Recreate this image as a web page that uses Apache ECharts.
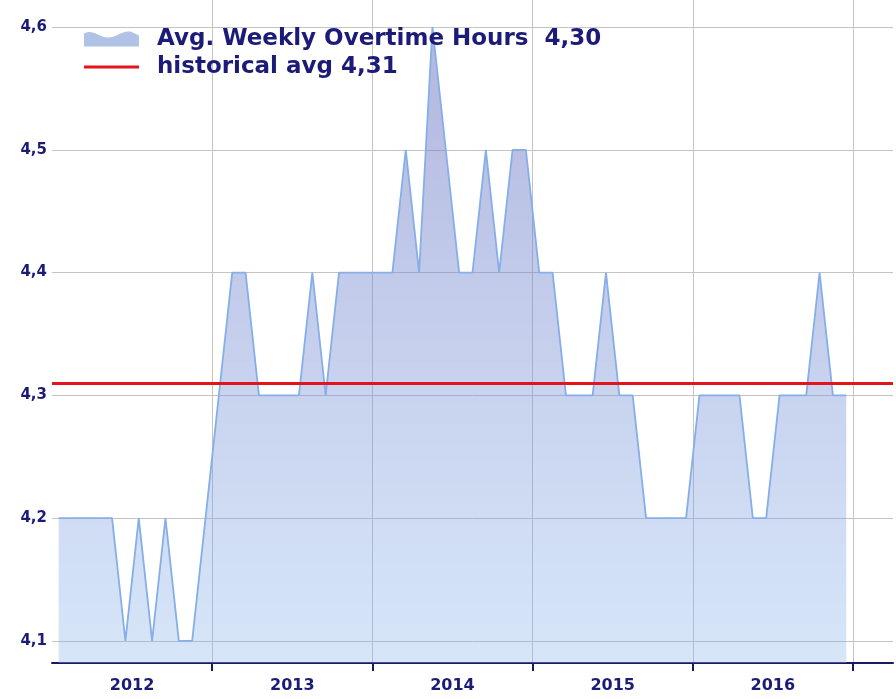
<!DOCTYPE html>
<html>
<head>
    <meta charset="utf-8">
    <title>Avg. Weekly Overtime Hours</title>
    <script src="https://cdn.jsdelivr.net/npm/echarts@6/dist/echarts.min.js"></script>
    <style>
        html, body { margin: 0; padding: 0; background: #fff; }
    </style>
</head>
<body>
<div id="main" style="width: 896px;height:699px;"></div>
<script type="text/javascript">
    // monthly values Jan 2012 .. Dec 2016
    var overtime = [
        4.2, 4.2, 4.2, 4.2, 4.2, 4.1, 4.2, 4.1, 4.2, 4.1, 4.1, 4.2,   // 2012
        4.3, 4.4, 4.4, 4.3, 4.3, 4.3, 4.3, 4.4, 4.3, 4.4, 4.4, 4.4,   // 2013
        4.4, 4.4, 4.5, 4.4, 4.6, 4.5, 4.4, 4.4, 4.5, 4.4, 4.5, 4.5,   // 2014
        4.4, 4.4, 4.3, 4.3, 4.3, 4.4, 4.3, 4.3, 4.2, 4.2, 4.2, 4.2,   // 2015
        4.3, 4.3, 4.3, 4.3, 4.2, 4.2, 4.3, 4.3, 4.3, 4.4, 4.3, 4.3    // 2016
    ];
    var years = ['2012', '2013', '2014', '2015', '2016'];
    var historicalAvg = 4.31;
    var seriesNames = ['Avg. Weekly Overtime Hours  4,30', 'historical avg 4,31'];

    var navy = '#1c1c78';
    var myChart = echarts.init(document.getElementById('main'));

    // x position in months: each value sits in the middle of its month
    var points = overtime.map(function (v, i) { return [i + 0.5, v]; });
    var yearStarts = years.map(function (y, i) { return (i + 1) * 12; });
    var yearMids = years.map(function (y, i) { return i * 12 + 6; });

    myChart.setOption({
        animation: false,
        textStyle: { fontFamily: 'DejaVu Sans' },
        legend: {
            orient: 'vertical',
            left: 79,
            top: 20,
            itemGap: 0,
            itemWidth: 55,
            itemHeight: 18,
            textStyle: {
                color: navy, fontSize: 23, fontWeight: 'bold', fontFamily: 'DejaVu Sans',
                lineHeight: 28, padding: [0, 0, 0, 13]
            },
            data: [
                {
                    name: seriesNames[0],
                    icon: 'path://M0,5 C8,0 14,8 24,9 C32,9 38,2 46,3 C50,4 52,6 55,7 L55,18 L0,18 Z',
                    itemStyle: { color: '#b0c2e6' }
                },
                {
                    name: seriesNames[1],
                    icon: 'path://M0,0 M55,18 M0,7.5 L55,7.5 L55,10.5 L0,10.5 Z',
                    itemStyle: { color: '#e3141b' }
                }
            ]
        },
        grid: { left: 52, right: 0, top: 0, bottom: 36 },
        xAxis: [
            {
                // main axis: line and year-boundary ticks
                type: 'value',
                min: 0,
                max: 63,
                interval: 12,
                axisLine: { show: true, lineStyle: { color: '#1a1a5e', width: 2 } },
                axisTick: {
                    show: true, length: 8, customValues: yearStarts,
                    lineStyle: { color: '#1a1a5e', width: 2 }
                },
                axisLabel: { show: false },
                splitLine: { show: false }
            },
            {
                // year labels centred in each year
                type: 'value',
                min: 0,
                max: 63,
                interval: 6,
                position: 'bottom',
                axisLine: { show: false },
                axisTick: { show: false },
                splitLine: { show: false },
                axisLabel: {
                    show: true,
                    margin: 15,
                    color: navy,
                    fontSize: 16,
                    fontWeight: 'bold',
                    formatter: function (v) {
                        var k = yearMids.indexOf(v);
                        return k < 0 ? '' : years[k];
                    }
                }
            },
            {
                // vertical grid lines at year boundaries
                type: 'value',
                min: 0,
                max: 63,
                interval: 12,
                position: 'bottom',
                axisLine: { show: false },
                axisTick: { show: false },
                axisLabel: { show: false },
                splitLine: { show: true, showMinLine: false, showMaxLine: false, lineStyle: { color: '#c4c4c4', width: 1 } }
            }
        ],
        yAxis: {
            type: 'value',
            min: 4.082,
            max: 4.622,
            splitNumber: 5,
            axisLine: { show: false },
            axisTick: { show: false },
            axisLabel: {
                color: navy,
                fontSize: 15,
                fontWeight: 'bold',
                margin: 5,
                formatter: function (v) {
                    var r = Math.round(v * 10) / 10;
                    if (Math.abs(v - r) > 0.001) return '';
                    return r.toFixed(1).replace('.', ',');
                }
            },
            splitLine: { show: true, showMinLine: false, showMaxLine: false, lineStyle: { color: '#c4c4c4', width: 1 } }
        },
        series: [
            {
                name: seriesNames[0],
                type: 'line',
                xAxisIndex: 0,
                data: points,
                symbol: 'none',
                lineStyle: { color: '#86aee8', width: 1.8 },
                itemStyle: { color: '#86aee8' },
                areaStyle: {
                    color: new echarts.graphic.LinearGradient(0, 0, 0, 1, [
                        { offset: 0, color: 'rgba(92,100,186,0.68)' },
                        { offset: 1, color: 'rgba(140,182,236,0.5)' }
                    ])
                },
                z: 2
            },
            {
                name: seriesNames[1],
                type: 'line',
                xAxisIndex: 0,
                data: [],
                symbol: 'none',
                color: '#e3141b',
                lineStyle: { color: '#e3141b', width: 3 },
                markLine: {
                    silent: true,
                    symbol: 'none',
                    label: { show: false },
                    lineStyle: { color: '#e3141b', width: 3, type: 'solid' },
                    data: [{ yAxis: historicalAvg }]
                },
                z: 3
            }
        ]
    });
</script>
</body>
</html>
